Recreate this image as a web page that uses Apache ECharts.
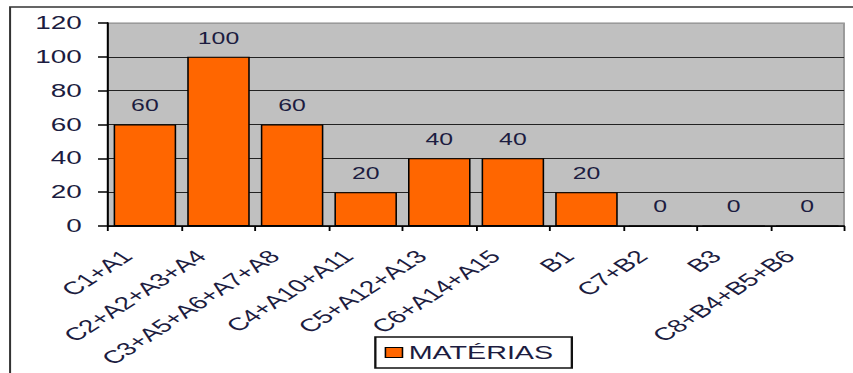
<!DOCTYPE html>
<html>
<head>
<meta charset="utf-8">
<script src="https://cdn.jsdelivr.net/npm/echarts@6/dist/echarts.min.js"></script>
<style>
    html, body {margin: 0; padding: 0; background: #fff; overflow: hidden;}
    /* a imagem original está esticada na horizontal, por isso o gráfico é desenhado
       mais estreito e depois esticado em x */
    #chart {width: 550px; height: 373px; transform: scaleX(1.551); transform-origin: 0 0;}
</style>
</head>
<body>
<div id="chart"></div>
<script>
// dados do gráfico
var categorias = ['C1+A1', 'C2+A2+A3+A4', 'C3+A5+A6+A7+A8', 'C4+A10+A11', 'C5+A12+A13',
    'C6+A14+A15', 'B1', 'C7+B2', 'B3', 'C8+B4+B5+B6'];
var materias = [60, 100, 60, 20, 40, 40, 20, 0, 0, 0];
var nomeSerie = 'MATÉRIAS';

var fonte = 'Liberation Sans, Arial, sans-serif';
var corTexto = '#1c1c40';
var myChart = echarts.init(document.getElementById('chart'), null, {renderer: 'svg'});
myChart.setOption({
    animation: false,
    textStyle: {fontFamily: fonte},
    graphic: [{
        type: 'rect',
        z: -1,
        shape: {x: 6.5, y: 7, width: 600, height: 420},
        style: {fill: 'none', stroke: '#333', lineWidth: 1.3}
    }],
    grid: {
        left: 69.7, right: 5.8, top: 23, bottom: 147,
        show: true,
        backgroundColor: '#c0c0c0',
        borderColor: '#8a8a8a',
        borderWidth: 1
    },
    legend: {
        data: [nomeSerie],
        left: 242,
        top: 337,
        padding: [6, 12, 6, 6],
        borderColor: '#111',
        borderWidth: 1.5,
        backgroundColor: '#fff',
        icon: 'rect',
        itemWidth: 11,
        itemHeight: 10,
        itemGap: 4,
        itemStyle: {borderColor: '#000', borderWidth: 1},
        textStyle: {fontSize: 18.5, color: corTexto, fontFamily: fonte, padding: [0, 0, 0, -1]}
    },
    xAxis: {
        type: 'category',
        data: categorias,
        axisLine: {lineStyle: {color: '#000', width: 1.5}},
        axisTick: {show: true, length: 5, lineStyle: {color: '#000', width: 1.2}},
        axisLabel: {
            interval: 0,
            rotate: 45,
            fontSize: 18,
            color: corTexto,
            margin: 16,
            padding: [0, 16, 0, 0]
        }
    },
    yAxis: {
        type: 'value',
        min: 0,
        max: 120,
        interval: 20,
        axisLine: {show: true, lineStyle: {color: '#000', width: 1.3}},
        axisTick: {show: true, length: 6.5, lineStyle: {color: '#000', width: 1.5}},
        axisLabel: {fontSize: 18, color: corTexto, margin: 17},
        splitLine: {
            show: true,
            lineStyle: {color: ['#222', '#222', '#222', '#222', '#222', '#222', '#9a9a9a'], width: 1.2}
        }
    },
    series: [{
        name: nomeSerie,
        type: 'bar',
        data: materias,
        barCategoryGap: '15%',
        itemStyle: {color: '#ff6600', borderColor: '#000', borderWidth: 1},
        label: {
            show: true,
            position: 'top',
            distance: 11,
            fontSize: 16,
            color: corTexto
        }
    }]
});
</script>
</body>
</html>
